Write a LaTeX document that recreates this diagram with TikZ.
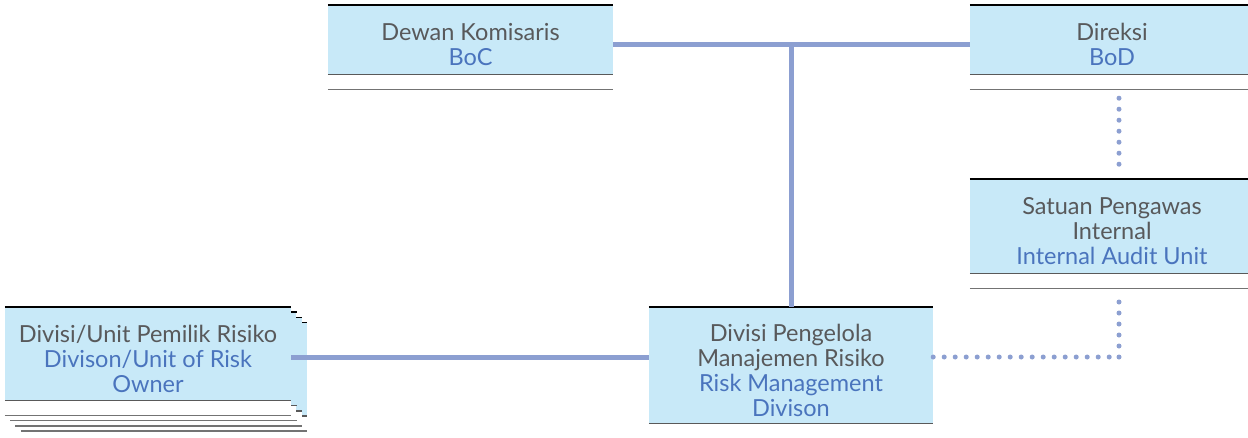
\documentclass[tikz,border=0pt]{standalone}
\usepackage{fontspec}
\setmainfont{Lato}
\usetikzlibrary{calc}
\definecolor{boxfill}{HTML}{C8E9F8}
\definecolor{linkblue}{HTML}{8C9FD1}
\definecolor{txtgray}{HTML}{58595B}
\definecolor{txtblue}{HTML}{4A74BD}
\newcommand\engl[1]{\textcolor{txtblue}{#1}}
% taller first line so the text block sits a little below the box centre
\newcommand\firstline{\rule{0pt}{27.5pt}}
\tikzset{
  orgbox/.style={fill=boxfill, inner sep=0pt, align=center, text=txtgray,
    font=\fontsize{23.5}{25}\selectfont},
  topedge/.style={line width=1.4pt, black},
  botedge/.style={line width=1.4pt, black!65},
  sepedge/.style={line width=1.4pt, black!55},
  solidlink/.style={line width=5pt, linkblue},
  dotlink/.style={line width=5pt, linkblue, line cap=round, dash pattern=on 0pt off 11pt}
}
% box edges: black top rule, grey bottom rule, detached grey rule below
\newcommand\edges[1]{%
  \draw[topedge] (#1.north west) -- (#1.north east);
  \draw[botedge] (#1.south west) -- (#1.south east);}
\newcommand\sepline[1]{%
  \draw[sepedge] ($(#1.south west)+(0,15)$) -- ($(#1.south east)+(0,15)$);}
\begin{document}
\begin{tikzpicture}[x=1pt, y=-1pt]
\path[use as bounding box, fill=white] (0,0) rectangle (1248,437);

% top row
\node[orgbox, minimum width=285pt, minimum height=69pt] (boc) at (470.5,39.5)
  {\firstline Dewan Komisaris\\\engl{BoC}};
\edges{boc}\sepline{boc}
\node[orgbox, minimum width=284pt, minimum height=69pt] (bod) at (1112,39.5)
  {\firstline Direksi\\\engl{BoD}};
\edges{bod}\sepline{bod}

% internal audit
\node[orgbox, minimum width=284pt, minimum height=94pt] (spi) at (1112,226)
  {\firstline Satuan Pengawas\\Internal\\\engl{Internal Audit Unit}};
\edges{spi}\sepline{spi}

% risk management division
\node[orgbox, minimum width=284pt, minimum height=116pt] (rmd) at (791,365)
  {\firstline Divisi Pengelola\\Manajemen Risiko\\\engl{Risk Management}\\\engl{Divison}};
\edges{rmd}

% stacked risk owner units, back to front
\foreach \k in {3,2,1}{
  \begin{scope}[shift={(5.33*\k,5.33*\k)}]
    \fill[white] (5,307) rectangle (291,416.5);
    \node[orgbox, minimum width=286pt, minimum height=93pt] (stack\k) at (148,353.5) {};
    \edges{stack\k}\sepline{stack\k}
  \end{scope}
}
\fill[white] (5,307) rectangle (291,416.5);
\node[orgbox, minimum width=286pt, minimum height=93pt] (owner) at (148,353.5)
  {\firstline Divisi/Unit Pemilik Risiko\\\engl{Divison/Unit of Risk}\\\engl{Owner}};
\edges{owner}\sepline{owner}

% solid reporting lines
\coordinate (trunk) at (791,44.7);
\coordinate (lk) at (0,357);
\draw[solidlink] (boc.east |- trunk) -- (bod.west |- trunk);
\draw[solidlink] (rmd.north) -- (rmd.north |- trunk);
\draw[solidlink] (owner.east |- lk) -- (rmd.west |- lk);

% dotted audit lines
\coordinate (audx) at (1119,0);
\coordinate (corner) at (1119,357);
\draw[dotlink] ($(audx |- bod.south)+(0,24)$) -- ($(audx |- spi.north)+(0,-5)$);
\draw[dotlink] (corner) -- ($(audx |- spi.south)+(0,19)$);
\draw[dotlink] (rmd.east |- corner) -- (corner);
\end{tikzpicture}
\end{document}
